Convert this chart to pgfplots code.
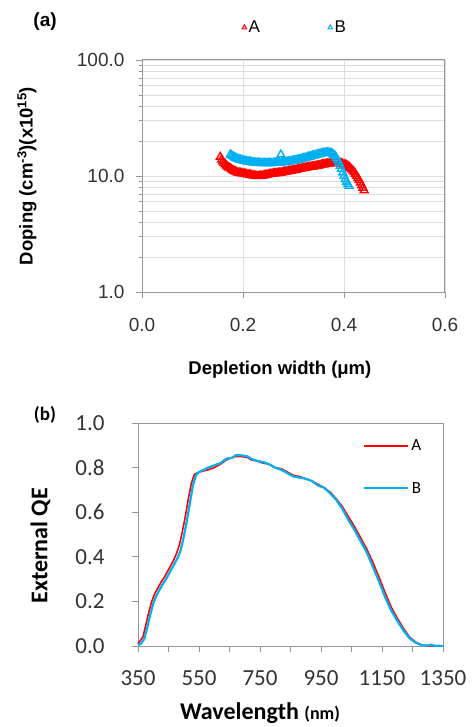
\documentclass[border=0pt]{standalone}
\usepackage{fontspec}
\setmainfont{Carlito}
\newfontfamily\arialfont{Liberation Sans}
\usepackage{pgfplots}
\pgfplotsset{compat=1.18}

\definecolor{redA}{RGB}{255,0,0}
\definecolor{blueB}{RGB}{0,176,240}
\definecolor{axisgray}{RGB}{150,150,150}
\definecolor{gridgray}{RGB}{222,222,222}

\begin{document}
\begin{tikzpicture}
\path[use as bounding box] (0pt,0pt) rectangle (474pt,-727pt);

% (a) doping profile
\begin{axis}[
    at={(142pt,-292pt)}, anchor=south west,
    scale only axis, width=303pt, height=232pt,
    xmin=0, xmax=0.6,
    ymode=log, ymin=1, ymax=100,
    xtick={0,0.2,0.4,0.6}, xticklabels={0.0,0.2,0.4,0.6},
    ytick={1,10,100}, yticklabels={1.0,10.0,100.0},
    xtick pos=bottom, ytick pos=left,
    tick align=outside,
    major tick length=6pt, minor tick length=3pt,
    axis line style={axisgray, line width=1pt},
    every tick/.style={axisgray, line width=0.8pt},
    xmajorgrids=true, ymajorgrids=true, yminorgrids=true,
    major grid style={gridgray, line width=0.8pt},
    minor grid style={gridgray, line width=0.8pt},
    tick label style={font=\arialfont\fontsize{19}{22}\selectfont, text=black!80},
    xticklabel style={yshift=-17pt},
    yticklabel style={xshift=-8pt},
    xlabel={Depletion width (μm)},
    ylabel={Doping (cm\textsuperscript{-3})(x10\textsuperscript{15})},
    label style={font=\arialfont\bfseries\fontsize{18.5}{22}\selectfont},
    xlabel style={at={(axis description cs:0.455,-0.336)}, anchor=center},
    ylabel style={at={(axis description cs:-0.38,0.50)}, anchor=center},
    legend columns=2,
    legend style={draw=none, fill=none, at={(axis description cs:0.505,1.14)}, anchor=center,
        font=\arialfont\fontsize{17}{20}\selectfont,
        /tikz/every even column/.append style={column sep=66pt}},
    legend image post style={mark size=2.6pt, line width=1pt},
    clip=false,
]
\addplot[only marks, mark=triangle, mark size=4.5pt, redA, line width=1.4pt] coordinates {
(0.1550,14.6) (0.1575,13.8) (0.1600,13.3) (0.1625,12.9) (0.1650,12.6) (0.1675,12.3)
(0.1700,12.0) (0.1725,11.8) (0.1750,11.6) (0.1775,11.4) (0.1800,11.2) (0.1825,11.05)
(0.1850,10.9) (0.1875,10.8) (0.1900,10.7) (0.1925,10.65) (0.1950,10.6) (0.1975,10.55)
(0.2000,10.5) (0.2025,10.45) (0.2050,10.4) (0.2075,10.3) (0.2100,10.3) (0.2125,10.25)
(0.2150,10.2) (0.2175,10.15) (0.2200,10.1) (0.2225,10.05) (0.2250,10.0) (0.2275,10.0)
(0.2300,9.95) (0.2325,10.0) (0.2350,10.0) (0.2375,10.05) (0.2400,10.1) (0.2425,10.1)
(0.2450,10.2) (0.2475,10.25) (0.2500,10.3) (0.2525,10.35) (0.2550,10.4) (0.2575,10.45)
(0.2600,10.5) (0.2625,10.5) (0.2650,10.55) (0.2675,10.6) (0.2700,10.6) (0.2725,10.65)
(0.2750,10.7) (0.2775,10.75) (0.2800,10.8) (0.2825,10.85) (0.2850,10.9) (0.2875,10.95)
(0.2900,11.0) (0.2925,11.05) (0.2950,11.1) (0.2975,11.15) (0.3000,11.2) (0.3025,11.25)
(0.3050,11.3) (0.3075,11.4) (0.3100,11.5) (0.3125,11.55) (0.3150,11.6) (0.3175,11.65)
(0.3200,11.7) (0.3225,11.75) (0.3250,11.8) (0.3275,11.85) (0.3300,11.9) (0.3325,11.95)
(0.3350,12.0) (0.3375,12.05) (0.3400,12.1) (0.3425,12.15) (0.3450,12.2) (0.3475,12.25)
(0.3500,12.3) (0.3525,12.4) (0.3550,12.5) (0.3575,12.55) (0.3600,12.6) (0.3625,12.65)
(0.3650,12.7) (0.3675,12.75) (0.3700,12.8) (0.3725,12.85) (0.3750,12.9) (0.3775,12.95)
(0.3800,13.0) (0.3825,13.0) (0.3850,13.0) (0.3875,12.95) (0.3900,12.9) (0.3925,12.85)
(0.3950,12.8) (0.3975,12.7) (0.4000,12.6) (0.4025,12.5) (0.4050,12.4) (0.4075,12.2)
(0.4100,12.0) (0.4125,11.7) (0.4150,11.4) (0.4175,11.1) (0.4200,10.8) (0.4225,10.4)
(0.4250,10.0) (0.4275,9.6) (0.4300,9.2) (0.4325,8.75) (0.4350,8.3) (0.4375,7.9)
(0.4400,7.5)
};
\addplot[only marks, mark=triangle, mark size=4.5pt, blueB, line width=1.4pt] coordinates {
(0.1750,15.3) (0.1775,15.0) (0.1800,14.8) (0.1825,14.5) (0.1850,14.3) (0.1875,14.15)
(0.1900,14.0) (0.1925,13.9) (0.1950,13.8) (0.1975,13.7) (0.2000,13.6) (0.2025,13.5)
(0.2050,13.4) (0.2075,13.35) (0.2100,13.3) (0.2125,13.25) (0.2150,13.2) (0.2175,13.15)
(0.2200,13.1) (0.2225,13.05) (0.2250,13.0) (0.2275,13.0) (0.2300,13.0) (0.2325,12.95)
(0.2350,12.9) (0.2375,12.9) (0.2400,12.9) (0.2425,12.9) (0.2450,12.9) (0.2475,12.9)
(0.2500,12.9) (0.2525,12.9) (0.2550,12.9) (0.2575,12.9) (0.2600,12.9) (0.2625,12.95)
(0.2650,13.0) (0.2675,13.0) (0.2700,13.0) (0.2725,13.05) (0.2750,15.3) (0.2775,13.1)
(0.2800,13.1) (0.2825,13.15) (0.2850,13.2) (0.2875,13.25) (0.2900,13.3) (0.2925,13.35)
(0.2950,13.4) (0.2975,13.45) (0.3000,13.5) (0.3025,13.6) (0.3050,13.7) (0.3075,13.75)
(0.3100,13.8) (0.3125,13.9) (0.3150,14.0) (0.3175,14.1) (0.3200,14.2) (0.3225,14.3)
(0.3250,14.4) (0.3275,14.5) (0.3300,14.6) (0.3325,14.7) (0.3350,14.8) (0.3375,14.9)
(0.3400,15.0) (0.3425,15.1) (0.3450,15.2) (0.3475,15.3) (0.3500,15.4) (0.3525,15.5)
(0.3550,15.6) (0.3575,15.7) (0.3600,15.8) (0.3625,15.85) (0.3650,15.9) (0.3675,15.9)
(0.3700,15.9) (0.3725,15.8) (0.3750,15.7) (0.3775,15.5) (0.3800,15.2) (0.3825,14.8)
(0.3850,14.3) (0.3875,13.7) (0.3900,13.0) (0.3925,12.2) (0.3950,11.5) (0.3975,10.7)
(0.4000,10.0) (0.4025,9.4) (0.4050,8.9) (0.4075,8.5) (0.4100,8.2)
};
\legend{A,B}
\node[font=\arialfont\bfseries\fontsize{19}{22}\selectfont] at (axis description cs:-0.32,1.164) {(a)};
\end{axis}

% (b) external quantum efficiency
\begin{axis}[
    at={(138pt,-646pt)}, anchor=south west,
    scale only axis, width=305pt, height=223pt,
    xmin=350, xmax=1350, ymin=0, ymax=1,
    xtick={350,550,750,950,1150,1350},
    xticklabels={350,550,750,950,1150,1350},
    minor xtick={450,650,850,1050,1250},
    ytick={0,0.2,0.4,0.6,0.8,1.0},
    yticklabels={0.0,0.2,0.4,0.6,0.8,1.0},
    xtick pos=bottom, ytick pos=left,
    tick align=outside,
    major tick length=6pt, minor tick length=6pt,
    axis line style={axisgray, line width=1pt},
    every tick/.style={axisgray, line width=0.8pt},
    tick label style={font=\fontsize{23}{26}\selectfont, text=black!80},
    xticklabel style={yshift=-15pt},
    yticklabel style={xshift=-24pt},
    xlabel={Wavelength {\fontsize{18}{20}\selectfont(nm)}},
    ylabel={External QE},
    label style={font=\bfseries\fontsize{24}{28}\selectfont},
    xlabel style={at={(axis description cs:0.40,-0.30)}, anchor=center},
    ylabel style={at={(axis description cs:-0.32,0.45)}, anchor=center},
    legend style={draw=none, fill=none, at={(axis description cs:0.738,0.935)}, anchor=north west,
        font=\fontsize{17}{20}\selectfont, inner sep=0pt, row sep=26pt,
        /tikz/every even column/.append style={column sep=1pt}},
    legend image code/.code={\draw[#1] (0pt,0pt) -- (44pt,0pt);},
    clip=false,
]
\addplot[redA, line width=1.6pt] coordinates {
(350,0.01) (358,0.025) (366,0.04) (375,0.09) (385,0.15) (395,0.20) (405,0.235)
(415,0.26) (425,0.285) (435,0.305) (445,0.33) (455,0.355) (465,0.38) (475,0.41)
(485,0.45) (495,0.51) (505,0.58) (515,0.66) (525,0.73) (535,0.77) (550,0.78)
(565,0.785) (580,0.79) (600,0.80) (620,0.815) (640,0.835) (660,0.845) (670,0.85)
(690,0.85) (710,0.845) (720,0.835) (740,0.83) (760,0.82) (780,0.815) (800,0.80)
(820,0.795) (840,0.78) (860,0.765) (880,0.76) (900,0.75) (920,0.74) (940,0.725)
(960,0.71) (980,0.69) (1000,0.66) (1020,0.625) (1040,0.58) (1060,0.535)
(1080,0.485) (1100,0.435) (1120,0.375) (1140,0.31) (1160,0.24) (1180,0.175)
(1200,0.125) (1220,0.08) (1240,0.04) (1260,0.018) (1280,0.005) (1300,0.001) (1350,0.0)
};
\addplot[blueB, line width=2.2pt] coordinates {
(350,0.005) (360,0.01) (370,0.03) (380,0.08) (390,0.14) (400,0.19) (410,0.225)
(420,0.25) (430,0.275) (440,0.295) (450,0.32) (460,0.345) (470,0.37) (480,0.395)
(490,0.43) (500,0.49) (510,0.56) (520,0.64) (530,0.72) (540,0.765) (550,0.78)
(565,0.79) (580,0.80) (600,0.81) (620,0.82) (640,0.84) (660,0.845) (670,0.855)
(690,0.855) (710,0.85) (720,0.84) (740,0.83) (760,0.825) (780,0.815) (800,0.80)
(820,0.79) (840,0.775) (860,0.76) (880,0.755) (900,0.75) (920,0.74) (940,0.72)
(960,0.71) (980,0.685) (1000,0.655) (1020,0.615) (1040,0.565) (1060,0.52)
(1080,0.47) (1100,0.42) (1120,0.355) (1140,0.29) (1160,0.22) (1180,0.16)
(1200,0.113) (1220,0.07) (1240,0.035) (1260,0.015) (1280,0.004) (1300,0.002)
(1310,0.006) (1320,0.002) (1350,0.0)
};
\legend{A,B}
\node[font=\bfseries\fontsize{19}{22}\selectfont] at (axis description cs:-0.305,1.036) {(b)};
\end{axis}
\end{tikzpicture}
\end{document}
